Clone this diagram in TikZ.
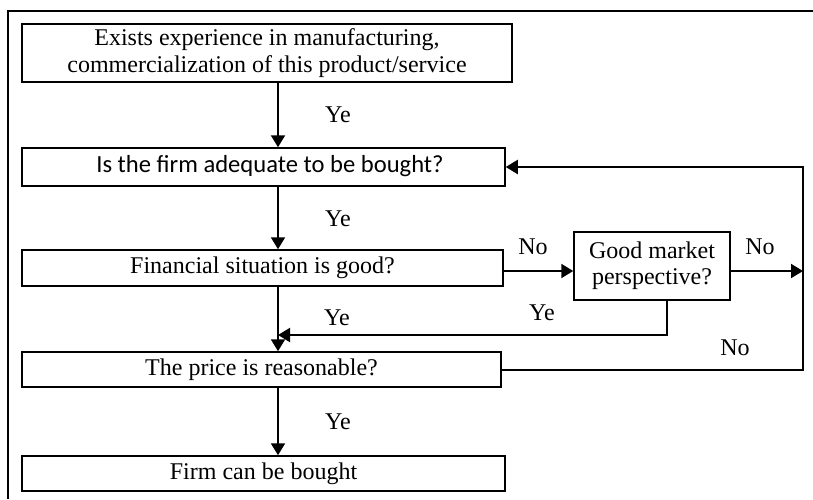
\documentclass[tikz,border=0pt]{standalone}
\usepackage{fontspec}
\setmainfont{Liberation Serif}
\newfontfamily\calfont{Carlito}
\usetikzlibrary{arrows.meta}
\begin{document}
\begin{tikzpicture}[x=0.5pt,y=-0.5pt,
  boxst/.style={draw,line width=0.75pt,inner sep=0pt,rectangle},
  txt/.style={font=\fontsize{12}{13.2}\selectfont,inner sep=0pt,align=center},
  arr/.style={line width=1pt,-{Triangle[length=6pt,width=7pt]}},
  ln/.style={line width=1pt}]
\useasboundingbox (0,0) rectangle (813,499);
% outer frame (top and left visible)
\coordinate (fa) at (8,499);
\coordinate (fb) at (8,11);
\coordinate (fc) at (813,11);
\draw[line width=1pt] (fa) -- (fb) -- (fc);
% boxes
\node[boxst,minimum width=245pt,minimum height=29pt,txt] (b1) at (267,53) {Exists experience in manufacturing,\\commercialization of this product/service};
\node[boxst,minimum width=241.5pt,minimum height=19pt] (b2) at (263.5,167) {};
\node[inner sep=0pt,font=\calfont\fontsize{12.3}{14}\selectfont] (t2) at (270,166) {Is the firm adequate to be bought?};
\node[boxst,minimum width=240.5pt,minimum height=18pt,txt] (fin) at (262.5,268) {Financial situation is good?};
\node[boxst,minimum width=78pt,minimum height=34pt,txt] (good) at (652,266) {Good market\\perspective?};
\node[boxst,minimum width=239.5pt,minimum height=17.5pt,txt] (price) at (261.5,369.5) {The price is reasonable?};
\node[boxst,minimum width=241.5pt,minimum height=17.5pt,txt] (last) at (263.5,473.5) {Firm can be bought};
% helper coordinates
\coordinate (ax) at (278,0);
\coordinate (gy) at (0,271);
\coordinate (r1) at (803,271);
\coordinate (gx) at (667,0);
\coordinate (yy) at (0,335);
\coordinate (r2) at (803,370);
% connectors
\draw[arr] (b1.south -| ax) -- (b2.north -| ax);
\draw[arr] (b2.south -| ax) -- (fin.north -| ax);
\draw[arr] (fin.south -| ax) -- (price.north -| ax);
\draw[arr] (price.south -| ax) -- (last.north -| ax);
\draw[arr] (fin.east |- gy) -- (good.west |- gy);
\draw[arr] (good.east |- gy) -- (r1);
\draw[arr] (good.south -| gx) -- (gx |- yy) -- (ax |- yy);
\draw[arr] (price.east |- r2) -- (r2) -- (r2 |- b2.east) -- (b2.east);
% labels
\node[txt] (y1) at (338,115) {Ye};
\node[txt] (y2) at (338,219) {Ye};
\node[txt] (y3) at (337,318) {Ye};
\node[txt] (y4) at (338,422) {Ye};
\node[txt] (y5) at (542,313) {Ye};
\node[txt] (n1) at (533,247) {No};
\node[txt] (n2) at (760,247) {No};
\node[txt] (n3) at (735,348) {No};
\end{tikzpicture}
\end{document}
